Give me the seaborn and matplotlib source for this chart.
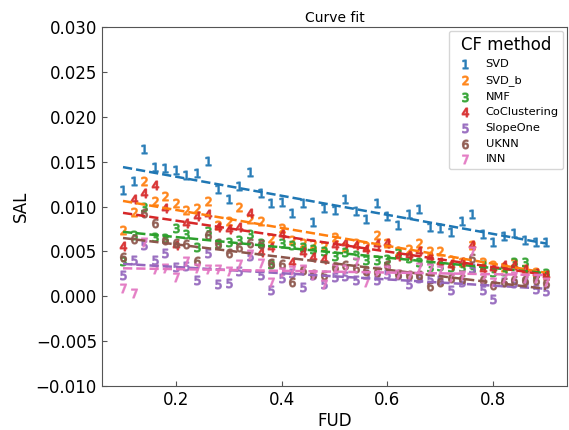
import seaborn as sns
import matplotlib.pyplot as plt
import pandas as pd

# -----------------------------
# Data
# -----------------------------

fud = [0.10, 0.12, 0.14, 0.16, 0.18, 0.20, 0.22, 0.24, 0.26, 0.28,
       0.30, 0.32, 0.34, 0.36, 0.38, 0.40, 0.42, 0.44, 0.46, 0.48,
       0.50, 0.52, 0.54, 0.56, 0.58, 0.60, 0.62, 0.64, 0.66, 0.68,
       0.70, 0.72, 0.74, 0.76, 0.78, 0.80, 0.82, 0.84, 0.86, 0.88, 0.90]

sal_svd = [0.0119, 0.0129, 0.0164, 0.0144, 0.0143, 0.0141, 0.0135, 0.0138, 0.0151, 0.0120,
           0.0109, 0.0123, 0.0139, 0.0115, 0.0104, 0.0105, 0.0093, 0.0104, 0.0083, 0.0098,
           0.0096, 0.0108, 0.0095, 0.0086, 0.0104, 0.0090, 0.0080, 0.0092, 0.0097, 0.0077,
           0.0076, 0.0072, 0.0084, 0.0092, 0.0070, 0.0061, 0.0067, 0.0071, 0.00625, 0.0061, 0.0061]

sal_svd_b = [0.0074, 0.0094, 0.0129, 0.0106, 0.0112, 0.0104, 0.0096, 0.0099, 0.0106, 0.0080,
             0.0084, 0.0100, 0.0086, 0.0084, 0.0065, 0.0076, 0.00625, 0.0059, 0.0058, 0.0056,
             0.0066, 0.0055, 0.0059, 0.0056, 0.0068, 0.0059, 0.0051, 0.0053, 0.0059, 0.0051,
             0.0050, 0.0040, 0.0038, 0.0057, 0.0038, 0.0035, 0.0033, 0.0037, 0.0031, 0.0027, 0.0024]

sal_nmf = [0.0039, 0.0068, 0.0100, 0.0066, 0.0065, 0.0076, 0.0069, 0.0055, 0.0073, 0.0058,
           0.0061, 0.0063, 0.0069, 0.0060, 0.0036, 0.0059, 0.0057, 0.0055, 0.0053, 0.0050,
           0.0045, 0.0049, 0.0046, 0.0040, 0.0041, 0.0042, 0.0048, 0.0043, 0.0038, 0.0033,
           0.00335, 0.0033, 0.0033, 0.0030, 0.0035, 0.0027, 0.0028, 0.0038, 0.0038, 0.0025, 0.0026]

sal_cocl = [0.0056, 0.0109, 0.0115, 0.0124, 0.0098, 0.0057, 0.0082, 0.0089, 0.00915, 0.0077,
            0.00755, 0.0077, 0.0093, 0.00495, 0.0055, 0.0069, 0.0038, 0.00495, 0.00435, 0.00415,
            0.0057, 0.0059, 0.0057, 0.0053, 0.0058, 0.0060, 0.0045, 0.00465, 0.0050, 0.0044,
            0.0038, 0.0035, 0.0038, 0.0057, 0.0030, 0.0032, 0.0035, 0.0035, 0.0030, 0.0026, 0.00235]

sal_slope = [0.00235, 0.0040, 0.0057, 0.0041, 0.0048, 0.0033, 0.00335, 0.0018, 0.0048, 0.0014,
             0.0015, 0.0028, 0.00445, 0.00235, 0.0007, 0.0020, 0.0026, 0.0011, 0.00235, 0.00135,
             0.00215, 0.0023, 0.0018, 0.0025, 0.00185, 0.0025, 0.0024, 0.00135, 0.0021, 0.0019,
             0.0018, 0.0007, 0.0016, 0.0032, 0.00075, -0.00025, 0.0016, 0.0015, 0.0016, 0.00085, 0.00065]

sal_uknn = [0.0044, 0.0064, 0.0093, 0.0082, 0.0063, 0.0060, 0.0058, 0.0039, 0.0068, 0.0060,
            0.0048, 0.0055, 0.0059, 0.0058, 0.0037, 0.00365, 0.0016, 0.0029, 0.0025, 0.00235,
            0.0033, 0.00345, 0.00315, 0.0028, 0.0027, 0.00345, 0.0025, 0.00235, 0.00235, 0.0012,
            0.0016, 0.0020, 0.0019, 0.0043, 0.0018, 0.0013, 0.0016, 0.0018, 0.0018, 0.0018, 0.0015]

sal_inn = [0.00095, 0.0004, 0.0061, 0.0031, 0.0032, 0.0022, 0.0039, 0.0032, 0.0031, 0.0030,
           0.0028, 0.0036, 0.0047, 0.0037, 0.0016, 0.0027, 0.0029, 0.0031, 0.0024, 0.0014,
           0.0032, 0.0031, 0.0038, 0.0016, 0.0028, 0.0029, 0.0025, 0.0023, 0.0033, 0.0032,
           0.0029, 0.0022, 0.0024, 0.0050, 0.0020, 0.0016, 0.0020, 0.0023, 0.0020, 0.0021, 0.0016]

methods = ["SVD", "SVD_b", "NMF", "CoClustering", "SlopeOne", "UKNN", "INN"]
series = [sal_svd, sal_svd_b, sal_nmf, sal_cocl, sal_slope, sal_uknn, sal_inn]

# -----------------------------
# Plot
# -----------------------------

colors = sns.color_palette("tab10", len(methods))

plt.rcParams["xtick.direction"] = "in"
plt.rcParams["ytick.direction"] = "in"
plt.rcParams["axes.edgecolor"] = "#555555"

fig, ax = plt.subplots(figsize=(5.69, 4.30), dpi=100)
fig.subplots_adjust(left=0.179, right=0.997, top=0.937, bottom=0.102)

for k, (name, vals) in enumerate(zip(methods, series)):
    df = pd.DataFrame({"FUD": fud, "SAL": vals})
    sns.regplot(data=df, x="FUD", y="SAL", ax=ax, ci=None,
                marker="$%d$" % (k + 1), color=colors[k], label=name,
                scatter_kws={"s": 40},
                line_kws={"linestyle": "--", "linewidth": 1.8})

ax.set_ylim(-0.010, 0.030)
ax.set_xticks([0.2, 0.4, 0.6, 0.8])
ax.set_yticks([-0.010, -0.005, 0.000, 0.005, 0.010, 0.015, 0.020, 0.025, 0.030])
ax.tick_params(labelsize=12, color="#555555")
ax.set_xlabel("FUD", fontsize=12, labelpad=2)
ax.set_ylabel("SAL", fontsize=12)
ax.set_title("Curve fit", fontsize=10, pad=4)

leg = ax.legend(title="CF method", loc="upper right", fontsize=8.2,
                title_fontsize=12, borderaxespad=0.35)

plt.savefig("out.png", dpi=100)
